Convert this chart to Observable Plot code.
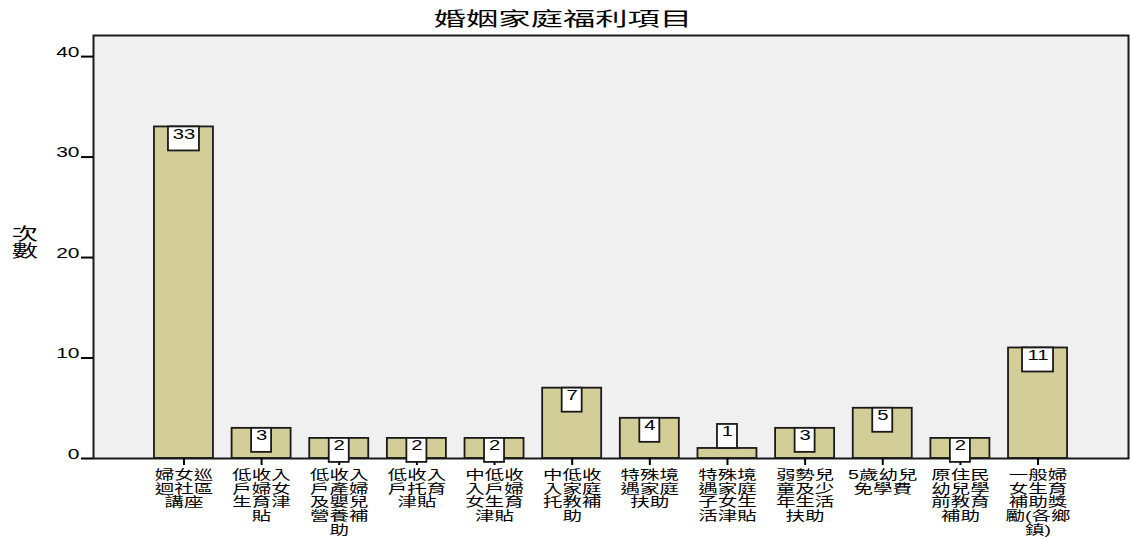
<!DOCTYPE html>
<html><head><meta charset="utf-8">
<script src="https://cdn.jsdelivr.net/npm/d3@7"></script>
<script src="https://cdn.jsdelivr.net/npm/@observablehq/plot@0.6"></script>
<style>
body{margin:0;background:#fff;}
#wrap{position:relative;width:1131px;height:538px;}
#title{position:absolute;left:0;top:6px;width:1126px;text-align:center;font-family:"Noto Sans CJK TC",sans-serif;font-size:19px;line-height:24px;transform:scaleX(1.7);transform-origin:center;}
#chart{position:absolute;left:0;top:0;}
</style></head><body>
<div id="wrap"><div id="chart"></div><div id="title">婚姻家庭福利項目</div></div>
<script>
const categories = [
  "婦女巡迴社區講座",
  "低收入戶婦女生育津貼",
  "低收入戶產婦及嬰兒營養補助",
  "低收入戶托育津貼",
  "中低收入戶婦女生育津貼",
  "中低收入家庭托教補助",
  "特殊境遇家庭扶助",
  "特殊境遇家庭子女生活津貼",
  "弱勢兒童及少年生活扶助",
  "5歲幼兒免學費",
  "原住民幼兒學前教育補助",
  "一般婦女生育補助獎勵(各鄉鎮)"
];
const tickLabels = [
  "婦女巡\n迴社區\n講座",
  "低收入\n戶婦女\n生育津\n貼",
  "低收入\n戶產婦\n及嬰兒\n營養補\n助",
  "低收入\n戶托育\n津貼",
  "中低收\n入戶婦\n女生育\n津貼",
  "中低收\n入家庭\n托教補\n助",
  "特殊境\n遇家庭\n扶助",
  "特殊境\n遇家庭\n子女生\n活津貼",
  "弱勢兒\n童及少\n年生活\n扶助",
  "5歲幼兒\n免學費",
  "原住民\n幼兒學\n前教育\n補助",
  "一般婦\n女生育\n補助獎\n勵(各鄉\n鎮)"
];
const counts = [33, 3, 2, 2, 2, 7, 4, 1, 3, 5, 2, 11];
const yTicks = [0, 10, 20, 30, 40];
const yLabel = "次\n數";

const data = categories.map((c, i) => ({cat: c, count: counts[i]}));
const boxH = 2.39;               // label box height in y units (~24px)
const inside = d => d.count >= 2;
const boxY1 = d => inside(d) ? d.count : d.count + boxH;
const boxY2 = d => inside(d) ? d.count - boxH : d.count;
const boxMid = d => inside(d) ? d.count - boxH / 2 : d.count + boxH / 2;

const plot = Plot.plot({
  width: 1131, height: 538,
  marginLeft: 93, marginRight: 3, marginTop: 35, marginBottom: 80,
  style: {fontFamily: '"Liberation Sans","Noto Sans CJK TC",sans-serif', fontSize: "13px", color: "#000", background: "transparent"},
  x: {domain: categories, paddingInner: 0.24, paddingOuter: 0.785, round: false, label: null},
  y: {domain: [0, 42.1], label: null},
  marks: [
    Plot.frame({fill: "#f0f0f0"}),
    Plot.barY(data, {x: "cat", y: "count", fill: "#d3ce97", stroke: "#1a1a1a", strokeWidth: 1.8}),
    Plot.frame({stroke: "#1a1a1a", strokeWidth: 2}),
    Plot.axisY({ticks: yTicks, tickSize: 12, tickPadding: 2, strokeWidth: 2, fontSize: 14, label: null}),
    Plot.axisX({tickSize: 7, tickPadding: 4, strokeWidth: 2, fontSize: 13, lineHeight: 1.05, label: null,
      tickFormat: c => tickLabels[categories.indexOf(c)]}),
    Plot.barY(data.filter(d => d.count < 10), {x: "cat", y1: boxY1, y2: boxY2, fill: "white", stroke: "#1a1a1a", strokeWidth: 1.8, insetLeft: 19.5, insetRight: 19.5}),
    Plot.barY(data.filter(d => d.count >= 10), {x: "cat", y1: boxY1, y2: boxY2, fill: "white", stroke: "#1a1a1a", strokeWidth: 1.8, insetLeft: 14, insetRight: 14}),
    Plot.text(data, {x: "cat", y: boxMid, text: d => String(d.count), fontSize: 15, fill: "#000", className: "vlabel"}),
    Plot.text([yLabel], {frameAnchor: "left", textAnchor: "middle", dx: -68.5, dy: -4, fontSize: 17, lineHeight: 1.0, fill: "#000", className: "ylab"})
  ]
});
document.getElementById("chart").appendChild(plot);

function stretch(nodes, s) {
  nodes.each(function() {
    const t = this.getAttribute("transform") || "";
    const x = +this.getAttribute("x") || 0, y = +this.getAttribute("y") || 0;
    this.removeAttribute("x"); this.removeAttribute("y");
    this.setAttribute("transform", `${t} translate(${x},${y}) scale(${s},1)`);
  });
}
const svg = d3.select(plot);
stretch(svg.selectAll("g[aria-label='x-axis tick label'] text"), 1.5);
stretch(svg.selectAll("g[aria-label='y-axis tick label'] text"), 1.5);
stretch(svg.selectAll(".vlabel text"), 1.35);
stretch(svg.selectAll(".ylab text"), 1.55);
</script>
</body></html>
